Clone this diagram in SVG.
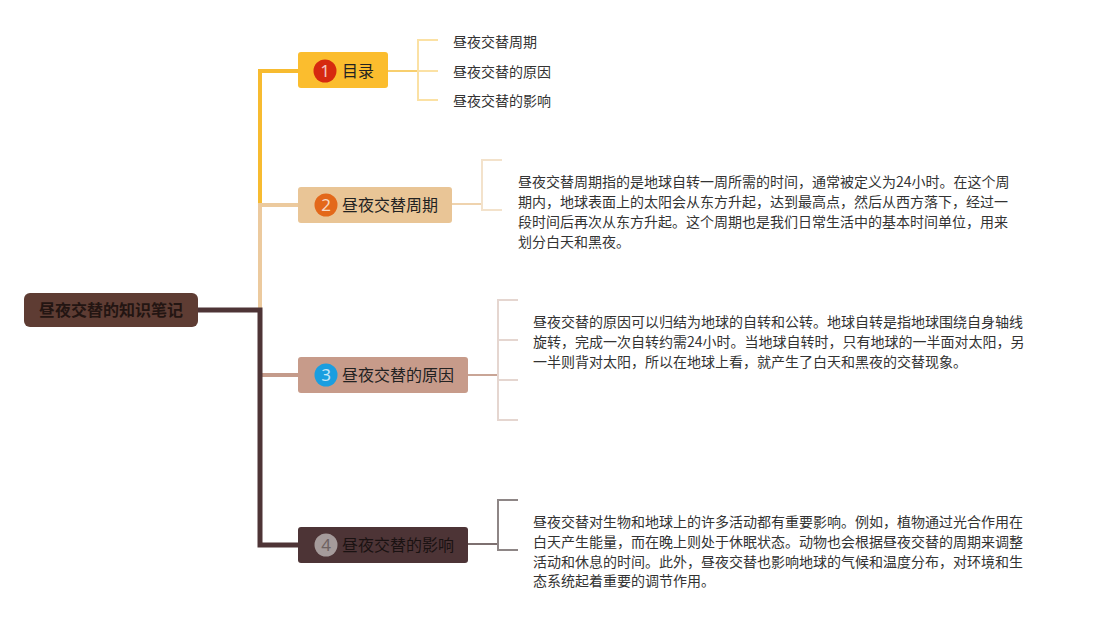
<svg xmlns="http://www.w3.org/2000/svg" width="1093" height="620" viewBox="0 0 1093 620">
<style>
text{font-family:"Noto Sans CJK SC","Noto Sans",sans-serif;}
.lbl{font-size:16px;fill:#222;}
.num{font-size:17px;fill:#fff;fill-opacity:0.75;text-anchor:middle;font-family:"Noto Sans","DejaVu Sans",sans-serif;}
.body{font-size:14px;fill:#333;}
.child{font-size:14px;fill:#333;}
.conn{fill:none;stroke-linejoin:miter;}
</style>
<rect width="1093" height="620" fill="#ffffff"/>
<g id="connectors">
<path class="conn" d="M198 310 H260 V71 H298" stroke="#f7bb30" stroke-width="4"/>
<path class="conn" d="M260 310 V205 H298" stroke="#ecca9e" stroke-width="4"/>
<path class="conn" d="M260 375 H298" stroke="#c49b8b" stroke-width="4"/>
<path class="conn" d="M198 310 H260 V545 H298" stroke="#4e3436" stroke-width="5"/>
<path class="conn" d="M388 71 H418" stroke="#f8cf6e" stroke-width="2"/>
<path class="conn" d="M438 40 H418 V100 H438 M418 71 H438" stroke="#fbe1a4" stroke-width="2"/>
<path class="conn" d="M452 204 H482" stroke="#efd3ae" stroke-width="2"/>
<path class="conn" d="M502 160 H482 V210 H502" stroke="#f3e2cb" stroke-width="2"/>
<path class="conn" d="M468 375 H498" stroke="#c9a596" stroke-width="2"/>
<path class="conn" d="M518 300 H498 V420 H518 M498 340 H518 M498 380 H518" stroke="#e5d6d0" stroke-width="2"/>
<path class="conn" d="M468 544 H498" stroke="#7d7070" stroke-width="2"/>
<path class="conn" d="M518 500 H498 V550 H518" stroke="#8e8686" stroke-width="2"/>
</g>
<g id="root">
<rect x="24" y="293" width="174" height="34" rx="6" fill="#5e3c33"/>
<text x="111" y="316" text-anchor="middle" style="font-size:16px;font-weight:bold;fill:#231512;">昼夜交替的知识笔记</text>
</g>
<g id="node1">
<rect x="298" y="52" width="90" height="36" rx="3" fill="#fbbd2e"/>
<circle cx="325" cy="71" r="11.5" fill="#d6290f"/>
<text class="num" x="325" y="77">1</text>
<text class="lbl" x="342" y="77">目录</text>
</g>
<g id="node1-children">
<text class="child" x="453" y="47">昼夜交替周期</text>
<text class="child" x="453" y="77">昼夜交替的原因</text>
<text class="child" x="453" y="106">昼夜交替的影响</text>
</g>
<g id="node2">
<rect x="298" y="187" width="154" height="36" rx="3" fill="#e9c596"/>
<circle cx="326" cy="205" r="11.5" fill="#e3681a"/>
<text class="num" x="326" y="211">2</text>
<text class="lbl" x="342" y="211">昼夜交替周期</text>
</g>
<g id="node2-detail">
<text class="body" x="518" y="187">昼夜交替周期指的是地球自转一周所需的时间，通常被定义为24小时。在这个周</text>
<text class="body" x="518" y="207">期内，地球表面上的太阳会从东方升起，达到最高点，然后从西方落下，经过一</text>
<text class="body" x="518" y="227">段时间后再次从东方升起。这个周期也是我们日常生活中的基本时间单位，用来</text>
<text class="body" x="518" y="247">划分白天和黑夜。</text>
</g>
<g id="node3">
<rect x="298" y="357" width="170" height="36" rx="3" fill="#c79b8a"/>
<circle cx="326" cy="375" r="11.5" fill="#1a9ee0"/>
<text class="num" x="326" y="381">3</text>
<text class="lbl" x="342" y="381">昼夜交替的原因</text>
</g>
<g id="node3-detail">
<text class="body" x="533" y="327">昼夜交替的原因可以归结为地球的自转和公转。地球自转是指地球围绕自身轴线</text>
<text class="body" x="533" y="347">旋转，完成一次自转约需24小时。当地球自转时，只有地球的一半面对太阳，另</text>
<text class="body" x="533" y="367">一半则背对太阳，所以在地球上看，就产生了白天和黑夜的交替现象。</text>
</g>
<g id="node4">
<rect x="298" y="527" width="170" height="36" rx="3" fill="#4d3436"/>
<circle cx="326" cy="545" r="11.5" fill="#a59b9b"/>
<text class="num" x="326" y="551" style="fill:#6e6262;fill-opacity:1;">4</text>
<text class="lbl" x="342" y="551" style="fill:#1a1212;">昼夜交替的影响</text>
</g>
<g id="node4-detail">
<text class="body" x="533" y="527">昼夜交替对生物和地球上的许多活动都有重要影响。例如，植物通过光合作用在</text>
<text class="body" x="533" y="547">白天产生能量，而在晚上则处于休眠状态。动物也会根据昼夜交替的周期来调整</text>
<text class="body" x="533" y="567">活动和休息的时间。此外，昼夜交替也影响地球的气候和温度分布，对环境和生</text>
<text class="body" x="533" y="586">态系统起着重要的调节作用。</text>
</g>
</svg>
